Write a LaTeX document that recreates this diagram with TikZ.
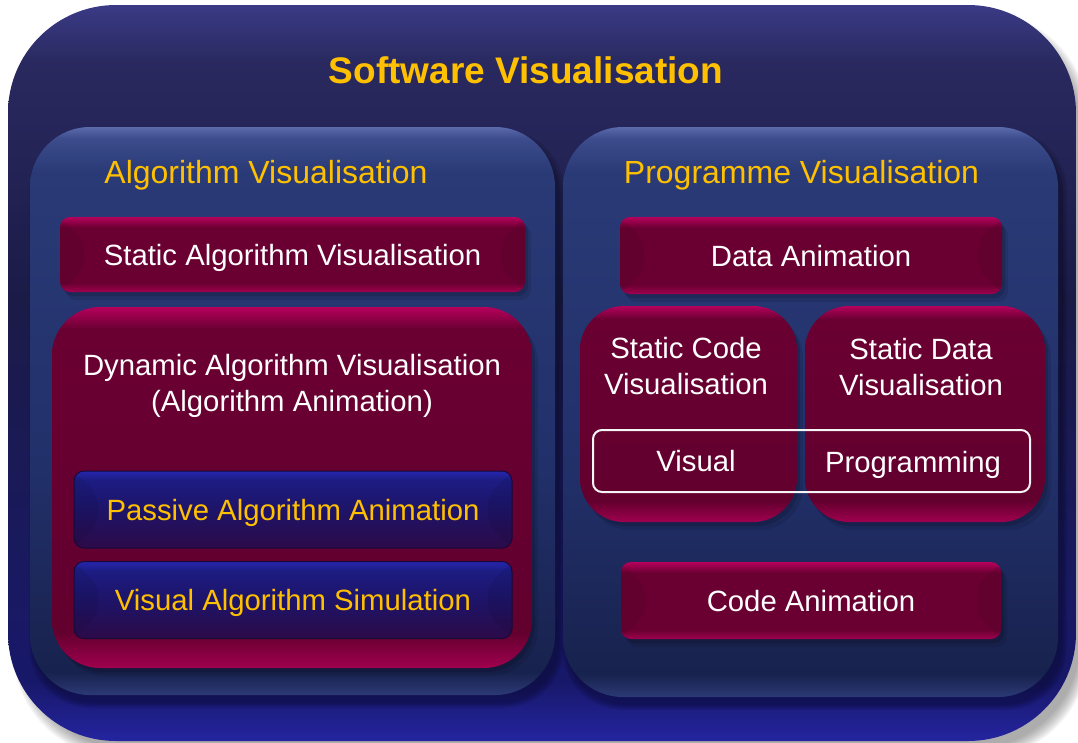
\documentclass[tikz,border=0pt]{standalone}
\usepackage{fontspec}
\setmainfont{Liberation Sans}
\usetikzlibrary{shadows}

% palette
\definecolor{gold}{HTML}{FFC000}
\definecolor{obA}{HTML}{2424A0}
\definecolor{obB}{HTML}{18186A}
\definecolor{obC}{HTML}{1B1B48}
\definecolor{obD}{HTML}{29295F}
\definecolor{obE}{HTML}{3A3A86}
\definecolor{pbA}{HTML}{2C3A76}
\definecolor{pbB}{HTML}{18224E}
\definecolor{pbC}{HTML}{22306A}
\definecolor{pbD}{HTML}{293A76}
\definecolor{pbE}{HTML}{3C4C8C}
\definecolor{pbF}{HTML}{5A6AAA}
\definecolor{mgEdgeT}{HTML}{B6005C}
\definecolor{mgEdgeB}{HTML}{A0004E}
\definecolor{mgBody}{HTML}{6A0032}
\definecolor{mgBodyD}{HTML}{62002E}
\definecolor{blT}{HTML}{2626AE}
\definecolor{blU}{HTML}{1C1C82}
\definecolor{blM}{HTML}{1E1468}
\definecolor{blB}{HTML}{2C0A48}
\definecolor{blLine}{HTML}{160A3A}

% shadings: the path box spans 25bp (bottom) .. 75bp (top)
\pgfdeclareverticalshading{outerfill}{100bp}{color(0bp)=(obA); color(25bp)=(obA); color(29bp)=(obB); color(55bp)=(obC); color(71bp)=(obD); color(75bp)=(obE); color(100bp)=(obE)}
\pgfdeclareverticalshading{panelfill}{100bp}{color(0bp)=(pbA); color(25bp)=(pbA); color(27bp)=(pbB); color(45bp)=(pbC); color(71bp)=(pbD); color(74bp)=(pbE); color(75bp)=(pbF); color(100bp)=(pbF)}
\pgfdeclareverticalshading{magsmall}{100bp}{color(0bp)=(mgEdgeB); color(25bp)=(mgEdgeB); color(31bp)=(mgBody); color(68bp)=(mgBody); color(75bp)=(mgEdgeT); color(100bp)=(mgEdgeT)}
\pgfdeclareverticalshading{magbig}{100bp}{color(0bp)=(mgEdgeB); color(25bp)=(mgEdgeB); color(30bp)=(mgBodyD); color(72bp)=(mgBody); color(75bp)=(mgEdgeT); color(100bp)=(mgEdgeT)}
\pgfdeclareverticalshading{bluebox}{100bp}{color(0bp)=(blB); color(25bp)=(blB); color(50bp)=(blM); color(69bp)=(blU); color(75bp)=(blT); color(100bp)=(blT)}

\begin{document}
\begin{tikzpicture}[x=1pt,y=-1pt,
  plain/.style={inner sep=0pt,outer sep=0pt},
  boxfont/.style={font=\fontsize{29.3}{36}\selectfont,text height=21pt,text depth=0pt},
  softshadow/.style={
    drop shadow={shadow xshift=6pt,shadow yshift=-8pt,opacity=0.10,fill=black},
    drop shadow={shadow xshift=3pt,shadow yshift=-4pt,opacity=0.14,fill=black}},
  bevel/.style={path picture={
    \fill[black,opacity=0.07] (path picture bounding box.north west) -- ++(24,24)
      -- ([xshift=24pt,yshift=24pt]path picture bounding box.south west) -- (path picture bounding box.south west) -- cycle;
    \fill[black,opacity=0.07] (path picture bounding box.north east) -- ++(-24,24)
      -- ([xshift=-24pt,yshift=24pt]path picture bounding box.south east) -- (path picture bounding box.south east) -- cycle;}},
  outerbox/.style={plain,shading=outerfill,rounded corners=108pt},
  panel/.style={plain,shading=panelfill,rounded corners=60pt},
  magbar/.style={plain,shading=magsmall,rounded corners=10pt,text=white,boxfont,softshadow,bevel},
  magblock/.style={plain,shading=magbig,rounded corners=48pt,softshadow},
  bluebar/.style={plain,shading=bluebox,rounded corners=10pt,draw=blLine,line width=1pt,text=gold,boxfont,bevel},
  outline/.style={plain,draw=white!92!gray,line width=2pt,rounded corners=9pt},
  heading/.style={text=gold,font=\fontsize{32}{36}\selectfont,text height=23pt,text depth=0pt},
  whitetext/.style={text=white,font=\fontsize{29.3}{36}\selectfont,align=center},
  whiteword/.style={text=white,boxfont},
]
\useasboundingbox (0,0) rectangle (1078,742);

% soft grey drop shadow under the frame, cast to the lower right
\foreach \k in {0,...,9}{
  \fill[black!75,opacity=0.055,rounded corners=108pt]
    (22-\k,21-\k) rectangle (1080+\k,749+\k);
}

% outer frame
\node[outerbox,minimum width=1068pt,minimum height=736pt] (outer) at (542,373) {};
\node[text=gold,font=\fontsize{37}{40}\selectfont\bfseries,text height=26.5pt,text depth=0pt] (title) at (526,70) {Software Visualisation};

% the two panels, each with a faint shadow
\foreach \k in {0,...,5}{
  \fill[black,opacity=0.05,rounded corners=60pt] (30+4-\k,127+8-\k) rectangle (555+4+\k,695+8+\k);
  \fill[black,opacity=0.05,rounded corners=60pt] (563+4-\k,127+8-\k) rectangle (1058+4+\k,697+8+\k);
}
\node[panel,minimum width=525pt,minimum height=568pt] (algpanel) at (292.5,411) {};
\node[panel,minimum width=495pt,minimum height=570pt] (progpanel) at (810.5,412) {};
\node[heading] (alghead) at (266,172) {Algorithm Visualisation};
\node[heading] (proghead) at (801.5,172) {Programme Visualisation};

% algorithm visualisation side
\node[magbar,minimum width=465pt,minimum height=75pt] (static) at (292.5,254.5) {Static Algorithm Visualisation};
\node[magblock,minimum width=480pt,minimum height=361pt] (dynamic) at (292,487.5) {};
\node[whitetext] (dyntext) at (292,386) {Dynamic Algorithm Visualisation\\(Algorithm Animation)};
\node[bluebar,minimum width=438pt,minimum height=77pt] (passive) at (293,509.5) {Passive Algorithm Animation};
\node[bluebar,minimum width=438pt,minimum height=77pt] (simulation) at (293,600) {Visual Algorithm Simulation};

% programme visualisation side
\node[magbar,minimum width=382pt,minimum height=77pt] (dataanim) at (811,255.5) {Data Animation};
\node[magblock,minimum width=217pt,minimum height=216pt,rounded corners=44pt] (staticcode) at (688.5,414) {};
\node[magblock,minimum width=240pt,minimum height=216pt,rounded corners=44pt] (staticdata) at (925,414) {};
\node[whitetext] (sctext) at (686,366.5) {Static Code\\Visualisation};
\node[whitetext] (sdtext) at (921,367) {Static Data\\Visualisation};
\node[outline,minimum width=437pt,minimum height=62pt] (vp) at (811.5,461) {};
\node[whiteword] (visual) at (696,460.5) {Visual};
\node[whiteword] (programming) at (913,461.5) {Programming};
\node[magbar,minimum width=380pt,minimum height=77pt] (codeanim) at (811,600.5) {Code Animation};
\end{tikzpicture}
\end{document}
